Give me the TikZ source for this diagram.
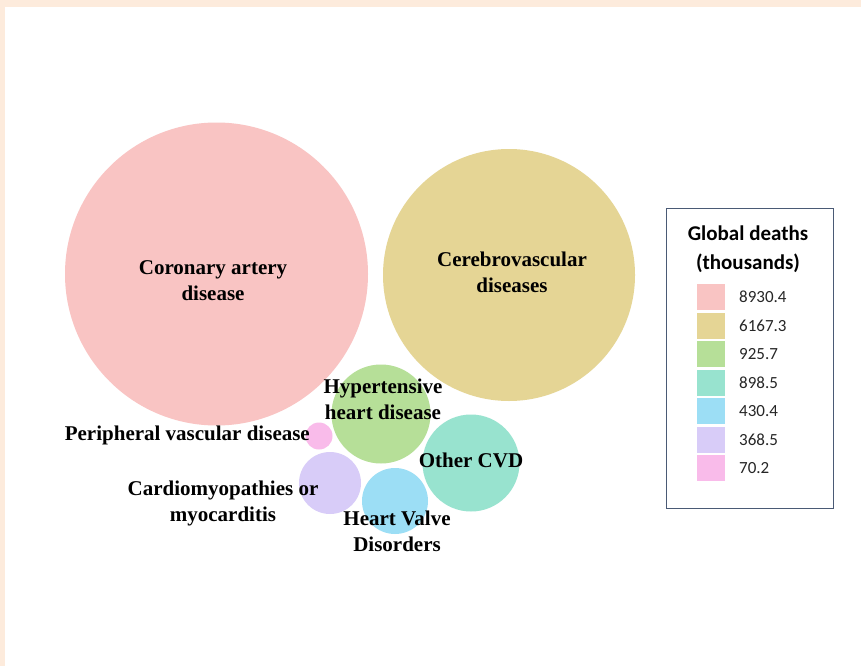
\documentclass[tikz,border=0pt]{standalone}
\usepackage{fontspec}
\newfontfamily\labfont{Liberation Serif}
\newfontfamily\legfont{Carlito}
\definecolor{peach}{HTML}{FDEBDC}
\definecolor{cpink}{HTML}{F9C4C3}
\definecolor{cyellow}{HTML}{E5D595}
\definecolor{cgreen}{HTML}{B6DF98}
\definecolor{cteal}{HTML}{98E3CF}
\definecolor{cblue}{HTML}{9CDEF5}
\definecolor{cpurple}{HTML}{D8CCF8}
\definecolor{cmagenta}{HTML}{F9BBEA}
\definecolor{legframe}{HTML}{4A5A75}
\tikzset{
  bubble/.style={circle, inner sep=0pt, draw=none},
  lab/.style={align=center, inner sep=0pt, text=black, font=\labfont\bfseries\fontsize{21}{26}\selectfont},
  swatch/.style={inner sep=0pt, minimum width=28pt, minimum height=26pt, draw=none},
  val/.style={anchor=west, inner sep=0pt, font=\legfont\fontsize{17}{18}\selectfont, text=black!85}
}
\begin{document}
\begin{tikzpicture}[x=1pt,y=-1pt]
\useasboundingbox (0,0) rectangle (861,666);
\fill[peach] (0,0) rectangle (861,666);
\fill[white] (5,7) rectangle (861,666);
% bubbles
\node[bubble, fill=cpink, minimum size=303pt] (cad) at (216.5,274) {};
\node[bubble, fill=cyellow, minimum size=252pt] (cbv) at (509,275) {};
\node[bubble, fill=cgreen, minimum size=99pt] (hhd) at (381,414) {};
\node[bubble, fill=cteal, minimum size=97pt] (ocvd) at (471,463) {};
\node[bubble, fill=cblue, minimum size=66pt] (hvd) at (395,501) {};
\node[bubble, fill=cpurple, minimum size=62pt] (cmm) at (330,483) {};
\node[bubble, fill=cmagenta, minimum size=27pt] (pvd) at (319,436) {};
% labels
\node[lab] (cadlab) at (213,281) {Coronary artery\\disease};
\node[lab] (cbvlab) at (512,272) {Cerebrovascular\\diseases};
\node[lab] (hhdlab) at (383,399) {Hypertensive\\heart disease};
\node[lab, anchor=east] (pvdlab) at (310,435) {Peripheral vascular disease};
\node[lab] (ocvdlab) at (471,460) {Other CVD};
\node[lab] (cmmlab) at (223,503) {Cardiomyopathies or\\myocarditis};
\node[lab] (hvdlab) at (397,531) {Heart Valve\\Disorders};
% legend
\node[draw=legframe, line width=0.9pt, minimum width=167pt, minimum height=300pt, inner sep=0pt] (legbox) at (749.5,358) {};
\node[align=center, inner sep=0pt, font=\legfont\bfseries\fontsize{21}{29}\selectfont] (legtitle) at (748,249.5) {Global deaths\\(thousands)};
\node[swatch, fill=cpink] (s1) at (711,297) {};
\node[swatch, fill=cyellow] (s2) at (711,325.5) {};
\node[swatch, fill=cgreen] (s3) at (711,354) {};
\node[swatch, fill=cteal] (s4) at (711,382.5) {};
\node[swatch, fill=cblue] (s5) at (711,411) {};
\node[swatch, fill=cpurple] (s6) at (711,439.5) {};
\node[swatch, fill=cmagenta] (s7) at (711,468) {};
\node[val] (v1) at (739,297) {8930.4};
\node[val] (v2) at (739,325.5) {6167.3};
\node[val] (v3) at (739,354) {925.7};
\node[val] (v4) at (739,382.5) {898.5};
\node[val] (v5) at (739,411) {430.4};
\node[val] (v6) at (739,439.5) {368.5};
\node[val] (v7) at (739,468) {70.2};
\end{tikzpicture}
\end{document}
